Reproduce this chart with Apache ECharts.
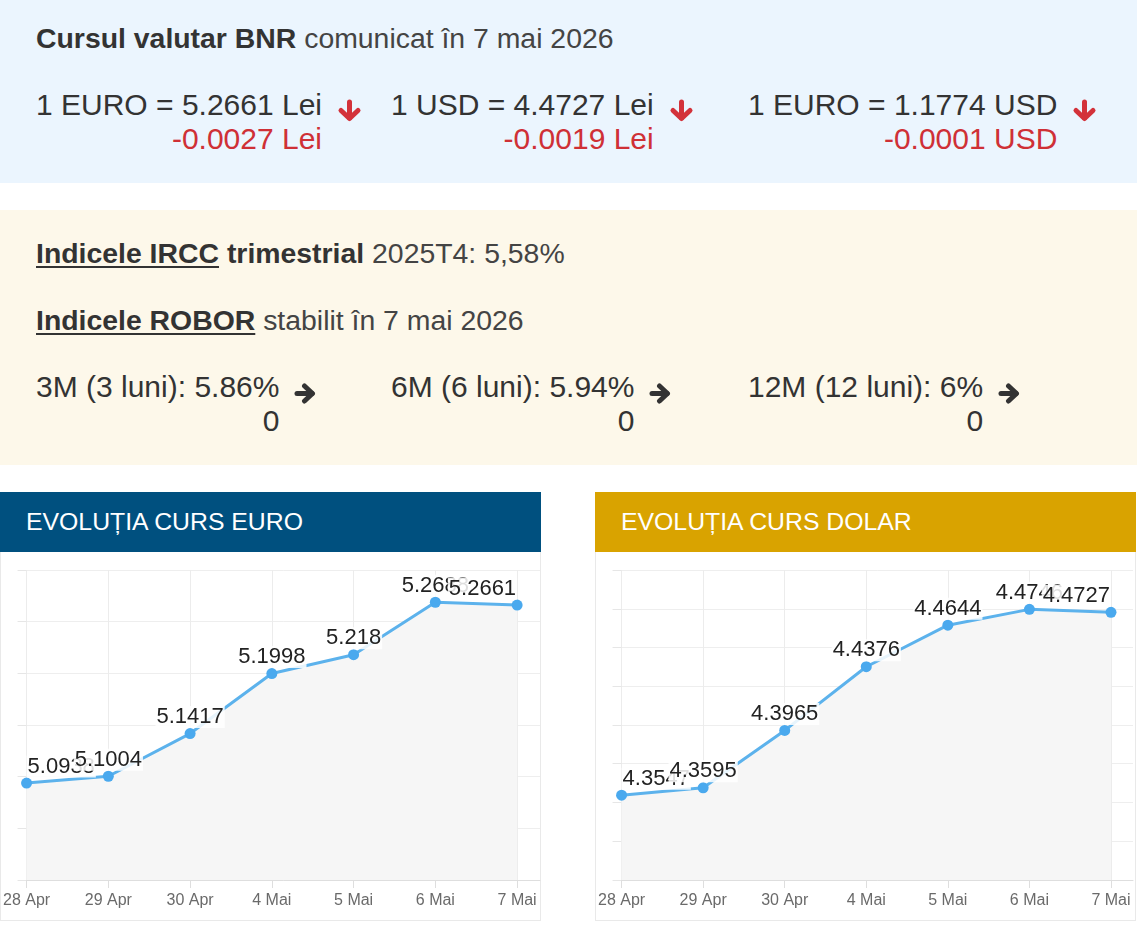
<!DOCTYPE html>
<html>
<head>
<meta charset="utf-8">
<script src="https://cdn.jsdelivr.net/npm/echarts@6/dist/echarts.min.js"></script>
<style>
  html,body{margin:0;padding:0;background:#fff;}
  body{width:1141px;height:938px;position:relative;overflow:hidden;font-family:"Liberation Sans",Arial,sans-serif;color:#333;}
  .abs{position:absolute;}
  #p1{left:0;top:0;width:1137px;height:183px;background:#ebf5fe;}
  #p2{left:0;top:210px;width:1137px;height:255px;background:#fdf8ea;}
  .title{font-size:28.4px;line-height:32px;white-space:nowrap;color:#444;}
  .title b{color:#333;}
  .title u{text-decoration-thickness:2px;text-underline-offset:3px;}
  .blk{font-size:30px;line-height:34px;text-align:right;white-space:nowrap;color:#333;}
  .red{color:#cf3036;}
  .blk svg{position:absolute;}
  .hdr{top:492px;width:541px;height:60px;color:#fff;font-size:24.8px;line-height:60px;box-sizing:border-box;padding-left:26px;white-space:nowrap;}
  .pan{top:552px;width:541px;height:369px;box-sizing:border-box;border:1px solid #e9e9e9;border-top:none;background:#fff;}
  .chart{top:552px;height:369px;}
</style>
</head>
<body>
<div id="p1" class="abs"></div>
<div id="p2" class="abs"></div>

<div class="abs title" style="left:36px;top:22px;"><b>Cursul valutar BNR</b> comunicat în 7 mai 2026</div>
<div id="rates"></div>

<div class="abs title" style="left:36px;top:237px;"><b><u>Indicele IRCC</u> trimestrial</b> 2025T4: 5,58%</div>
<div class="abs title" style="left:36px;top:304px;"><b><u>Indicele ROBOR</u></b> stabilit în 7 mai 2026</div>
<div id="robor"></div>

<div class="abs hdr" style="left:0;background:#00507f;">EVOLUȚIA CURS EURO</div>
<div class="abs hdr" style="left:595px;background:#d9a300;">EVOLUȚIA CURS DOLAR</div>
<div class="abs pan" style="left:0;"></div>
<div class="abs pan" style="left:595px;"></div>
<div id="cEuro" class="abs chart" style="left:0;width:541px;"></div>
<div id="cUsd" class="abs chart" style="left:595px;width:542px;"></div>

<script>
// ---- data ----
const rateLabels = ["1 EURO = 5.2661 Lei", "1 USD = 4.4727 Lei", "1 EURO = 1.1774 USD"];
const rateDeltas = ["-0.0027 Lei", "-0.0019 Lei", "-0.0001 USD"];
const roborLabels = ["3M (3 luni): 5.86%", "6M (6 luni): 5.94%", "12M (12 luni): 6%"];
const roborDeltas = ["0", "0", "0"];
const categories = ["28 Apr", "29 Apr", "30 Apr", "4 Mai", "5 Mai", "6 Mai", "7 Mai"];
const euroValues = [5.0938, 5.1004, 5.1417, 5.1998, 5.218, 5.2688, 5.2661];
const usdValues = [4.3547, 4.3595, 4.3965, 4.4376, 4.4644, 4.4746, 4.4727];

// ---- text blocks ----
const colLeft = [36, 391, 748];
const downArrow = '<svg width="25" height="23" viewBox="0 0 25 23" style="left:calc(100% + 15px);top:11px;"><g fill="none" stroke="#d3323a" stroke-width="5" stroke-linecap="round" stroke-linejoin="round"><line x1="12.5" y1="3" x2="12.5" y2="19"/><polyline points="4,11.5 12.5,19.5 21,11.5"/></g></svg>';
const rightArrow = '<svg width="23" height="21" viewBox="0 0 23 21" style="left:calc(100% + 15px);top:13px;"><g fill="none" stroke="#333" stroke-width="5" stroke-linecap="round" stroke-linejoin="round"><line x1="3" y1="10.5" x2="18" y2="10.5"/><polyline points="10.5,3 18.5,10.5 10.5,18"/></g></svg>';
function blocks(id, top, mains, deltas, deltaCls, arrow){
  const host = document.getElementById(id);
  mains.forEach((m,i)=>{
    const d = document.createElement('div');
    d.className = 'abs blk';
    d.style.left = colLeft[i]+'px';
    d.style.top = top+'px';
    d.innerHTML = '<div>'+m+'</div><div class="'+deltaCls+'">'+deltas[i]+'</div>'+arrow;
    host.appendChild(d);
  });
}
blocks('rates', 88, rateLabels, rateDeltas, 'red', downArrow);
blocks('robor', 370, roborLabels, roborDeltas, '', rightArrow);

// ---- charts ----
function makeChart(el, values, yMin, yMax, yInt, gridLeft, gridRight, xMax){
  const chart = echarts.init(document.getElementById(el), null, {renderer:'canvas'});
  const last = values.length - 1;
  const idx = categories.map((c,i)=>i);
  const data = values.map((v,i)=>{
    const item = {value:[i, v]};
    if(i===0) item.label = {align:'left'};
    if(i===last) item.label = {align:'right'};
    return item;
  });
  chart.setOption({
    animation:false,
    grid:{left:gridLeft, right:gridRight, top:18, bottom:41, containLabel:false},
    xAxis:{
      type:'value', min:0, max:xMax, interval:1,
      axisLine:{show:true, lineStyle:{color:'#dedede', width:1}},
      axisTick:{show:true, length:8, customValues:idx, lineStyle:{color:'#dedede'}},
      axisLabel:{show:true, customValues:idx, color:'#6a6a6a', fontSize:16, margin:13,
        fontFamily:'Liberation Sans, Arial, sans-serif',
        formatter:(v)=>categories[Math.round(v)] || ''},
      splitLine:{show:true, lineStyle:{color:'#ececec', width:1}}
    },
    yAxis:{
      type:'value', min:yMin, max:yMax, interval:yInt,
      axisLine:{show:false},
      axisTick:{show:true, length:9, lineStyle:{color:'#e6e6e6'}},
      axisLabel:{show:false},
      splitLine:{show:true, lineStyle:{color:'#eeeeee', width:1}}
    },
    series:[{
      type:'line',
      data:data,
      symbol:'circle', symbolSize:11,
      itemStyle:{color:'#4aa9ee'},
      lineStyle:{color:'#5cb2ec', width:3},
      areaStyle:{color:'#f6f6f6', opacity:1, origin:'start'},
      label:{show:true, position:'top', distance:0, color:'#222', fontSize:22,
        fontFamily:'Liberation Sans, Arial, sans-serif',
        backgroundColor:'rgba(255,255,255,0.85)', padding:[0,1],
        formatter:(p)=>String(p.value[1])},
      z:2
    }]
  });
}
makeChart('cEuro', euroValues, 5.0, 5.3, 0.05, 24, 1, 6.28);
makeChart('cUsd', usdValues, 4.3, 4.5, 0.025, 25, 4, 6.27);
</script>
</body>
</html>
